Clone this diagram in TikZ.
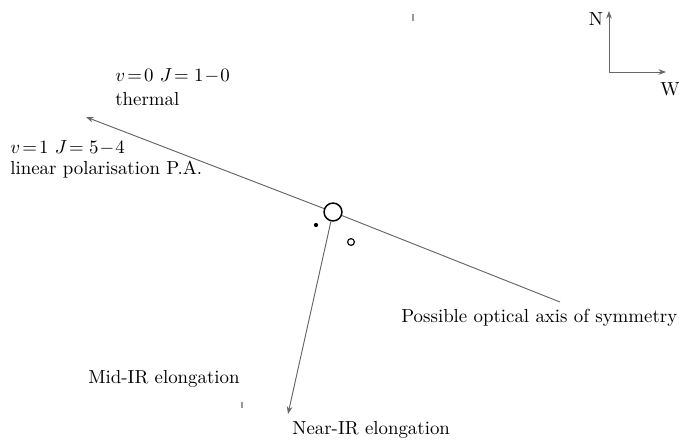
\documentclass[tikz,border=0pt]{standalone}
\usetikzlibrary{arrows.meta}
\begin{document}
\begin{tikzpicture}[x=0.53pt,y=-0.53pt,
  lbl/.style={anchor=west,inner sep=0pt},
  axisline/.style={draw=black!60,line width=0.5pt},
  tipend/.style={-{Stealth[length=4pt,width=3pt]}},
  smudge/.style={draw=black!40,line width=0.6pt}]
\useasboundingbox (0,0) rectangle (679,444);
% source and nearby objects
\node (src) at (333,212) [circle,draw,minimum size=9.5pt,inner sep=0pt,line width=0.8pt] {};
\node (dot) at (316,225) [circle,fill,minimum size=2.2pt,inner sep=0pt] {};
\node (oc) at (351,242) [circle,draw,minimum size=3.6pt,inner sep=0pt,line width=0.6pt] {};
% axes
\coordinate (optEnd) at (560,302);
\coordinate (polTip) at (86,117);
\coordinate (nirTip) at (288,414);
\draw[axisline] (optEnd) -- (src);
\draw[axisline,tipend] (src) -- (polTip);
\draw[axisline,tipend] (src) -- (nirTip);
% labels
\node[lbl] (t1) at (115,76) {$v\!=\!0$ $J\!=1\!-\!0$};
\node[lbl] (t2) at (115,99) {thermal};
\node[lbl] (t3) at (10,148) {$v\!=\!1$ $J\!=5\!-\!4$};
\node[lbl] (t4) at (10,170) {linear polarisation P.A.};
\node[lbl] (t5) at (401,318) {Possible optical axis of symmetry};
\node[lbl] (t6) at (88,379) {Mid-IR elongation};
\node[lbl] (t7) at (292,430) {Near-IR elongation};
% compass
\coordinate (cO) at (609,72);
\coordinate (cN) at (609,11);
\coordinate (cW) at (666,72);
\draw[axisline,tipend] (cO) -- (cN);
\draw[axisline,tipend] (cO) -- (cW);
\node (N) at (596,19) {N};
\node (W) at (670,89) {W};
% small marks
\draw[smudge] (413,14) -- (413,21);
\draw[smudge] (242,402) -- (242,408);
\end{tikzpicture}
\end{document}
